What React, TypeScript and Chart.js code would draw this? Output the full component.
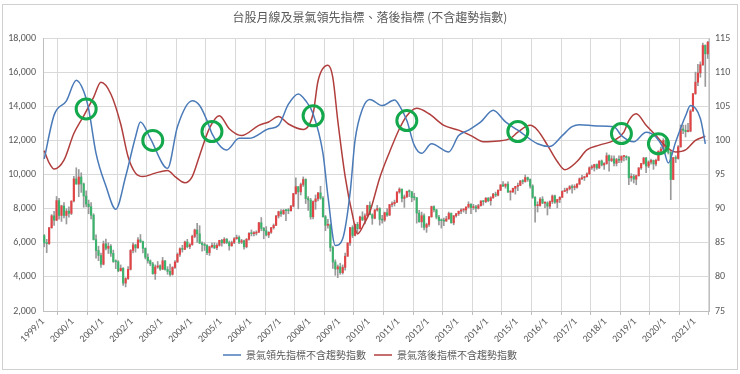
import React, { useEffect, useRef } from 'react';
import { Chart, registerables } from 'chart.js';
Chart.register(...registerables);

const START_YEAR = 1999;
const chartTitle = '台股月線及景氣領先指標、落後指標 (不含趨勢指數)';
const leadName = '景氣領先指標不含趨勢指數';
const lagName = '景氣落後指標不含趨勢指數';

const yearTickLabels = ['1999/1','2000/1','2001/1','2002/1','2003/1','2004/1','2005/1','2006/1','2007/1','2008/1','2009/1','2010/1','2011/1','2012/1','2013/1','2014/1','2015/1','2016/1','2017/1','2018/1','2019/1','2020/1','2021/1'];

// TAIEX monthly candles, 1999/1 .. 2021/6
const openPrices = [
  6418,5999,5950,6881,7581,7316,8467,7599,8157,7599,7854,7721,
  8448,9744,9435,9854,9444,8740,8265,8114,7616,6185,5544,5256,
  4739,5936,5674,5797,5381,4899,4883,4352,4500,3636,3903,4441,
  5551,5872,5696,6167,6065,5675,5153,4941,4764,4191,4579,4646,
  4452,4941,4432,4321,4148,4556,4872,5318,5650,5611,6045,5771,
  5890,6375,6750,6522,5977,5892,5840,5420,5765,5845,5706,5845,
  6139,5994,6207,6005,5819,6013,6241,6311,6033,6118,5764,6203,
  6548,6532,6561,6613,7171,6846,6704,6455,6611,6883,7021,7567,
  7823,7699,7901,7884,7875,8145,8883,9287,8982,9411,9711,8586,
  8506,7521,8412,8572,8920,8619,7524,7024,7046,5719,4870,4460,
  4591,4248,4557,5211,5992,6890,6432,7078,6826,7509,7340,7582,
  8188,7640,7436,7920,8004,7374,7329,7760,7616,8238,8287,8372,
  8973,9145,8600,8683,9008,8989,8653,8644,7741,7225,7587,6904,
  7072,7517,8121,7933,7501,7301,7296,7270,7397,7715,7166,7580,
  7700,7850,7919,7919,8094,8254,8062,8108,8022,8174,8450,8406,
  8612,8462,8639,8849,8792,9075,9393,9316,9436,8967,8975,9187,
  9307,9362,9622,9586,9820,9701,9323,8665,8175,8181,8554,8320,
  8338,8145,8411,8744,8377,8535,8666,9007,9069,9167,9290,9240,
  9254,9448,9750,9812,9872,10040,10395,10427,10586,10384,10794,10560,
  10643,11104,10816,10919,10658,10875,10837,11057,11064,10993,9802,9888,
  9727,9932,10389,10641,10967,10498,10730,10823,10618,10829,11358,11489,
  11997,11495,11292,9708,10992,10943,11621,12665,12592,12516,12546,13723,
  14733,15410,15953,16431,17567,17068
];
const highPrices = [
  6480,6200,6900,7650,7840,8710,8608,8200,8350,7990,8100,8450,
  9900,10393,10290,10100,9500,9050,8500,8350,7700,6460,5800,5400,
  6100,6210,6000,5900,5570,5000,4950,4700,4550,3950,4600,5600,
  5990,5920,6300,6484,6100,5700,5350,5000,4850,4700,4900,4700,
  5141,4950,4600,4750,4600,4950,5400,5700,5850,6100,6200,5950,
  6450,6800,7135,7000,6050,6000,5900,5800,6000,6000,5950,6150,
  6200,6300,6250,6100,6100,6300,6450,6400,6200,6150,6250,6600,
  6750,6650,6700,7200,7476,6900,6950,6650,6900,7100,7600,7850,
  7950,7950,7950,8000,8200,8900,9807,9300,9500,9859,9750,8700,
  8600,8450,8800,8950,9309,8700,7600,7376,7100,5800,5000,4700,
  4800,4700,5400,6000,6890,7000,7100,7200,7560,7810,7700,8200,
  8395,7700,7950,8190,8050,7600,7800,8000,8250,8400,8500,9000,
  9220,9150,8800,9030,9100,9000,8900,8650,7900,7800,7700,7150,
  7550,8150,8170,7950,7600,7400,7450,7550,7800,7750,7600,7720,
  7850,8000,8000,8100,8400,8300,8250,8200,8250,8450,8470,8650,
  8650,8700,8900,8970,9100,9400,9590,9450,9570,9050,9200,9300,
  9500,9650,9700,9973,9850,9750,9400,8700,8400,8650,8700,8400,
  8400,8450,8800,8800,8550,8700,9050,9200,9200,9350,9400,9400,
  9450,9800,9950,9900,10100,10450,10550,10600,10620,10800,10850,10700,
  11270,11150,11100,11100,10950,11100,11100,11100,11100,11050,10050,10000,
  9950,10400,10650,11000,11000,10800,10900,10850,10900,11400,11600,12100,
  12200,11850,11400,11000,11100,11700,12900,12900,12900,13000,13800,14750,
  16000,16450,16600,17700,17600,17800
];
const lowPrices = [
  5760,5422,5900,6850,7020,7300,7388,7250,7460,7100,7500,7650,
  8400,9440,8700,8950,8080,8100,7700,7400,6160,5100,4950,4555,
  4700,5580,5370,5200,4850,4480,4300,4350,3493,3411,3850,4400,
  5400,5450,5680,6000,5400,5050,4800,4650,4150,3850,4500,4380,
  4420,4400,4150,4044,4100,4500,4850,5200,5450,5600,5700,5650,
  5850,6300,6020,5950,5500,5550,5300,5255,5700,5650,5600,5800,
  5800,5950,5950,5565,5800,5950,6200,5950,5950,5618,5700,6150,
  6400,6400,6450,6600,6700,6232,6400,6300,6550,6800,7000,7450,
  7550,7650,7300,7700,7850,8100,8850,7987,8800,9300,8300,7900,
  7384,7400,7960,8450,8550,7500,6708,6850,5500,4500,4090,3955,
  4150,4164,4400,5200,5850,6300,6400,6550,6800,7300,7100,7500,
  7640,7080,7400,7850,7032,7150,7250,7550,7600,8100,8150,8350,
  8900,8400,8070,8650,8700,8400,8500,7150,7200,6900,6750,6609,
  6950,7500,7800,7400,7040,6860,7000,7250,7380,7150,7050,7500,
  7600,7700,7800,7700,8050,7700,7950,7800,7980,8150,8200,8350,
  8400,8200,8600,8700,8750,9050,9300,9200,8950,8500,8950,8850,
  9050,9350,9450,9550,9600,9200,8600,7203,7800,8150,8300,8050,
  7627,8000,8300,8300,8050,8350,8650,9000,8900,9100,8900,9100,
  9200,9400,9700,9650,9850,10000,10300,10200,10300,10350,10500,10300,
  10600,10189,10750,10500,10500,10700,10700,10800,10850,9400,9600,9500,
  9400,9900,10300,10600,10100,10400,10600,10300,10500,10800,11300,11400,
  11400,11200,8523,9700,10700,10900,11600,12400,12200,12500,12500,13700,
  14700,15200,15700,16400,15160,16800
];
const closePrices = [
  5999,5950,6881,7581,7316,8467,7599,8157,7599,7854,7721,8448,
  9744,9435,9854,9444,8740,8265,8114,7616,6185,5544,5256,4739,
  5936,5674,5797,5381,4899,4883,4352,4500,3636,3903,4441,5551,
  5872,5696,6167,6065,5675,5153,4941,4764,4191,4579,4646,4452,
  4941,4432,4321,4148,4556,4872,5318,5650,5611,6045,5771,5890,
  6375,6750,6522,5977,5892,5840,5420,5765,5845,5706,5845,6139,
  5994,6207,6005,5819,6013,6241,6311,6033,6118,5764,6203,6548,
  6532,6561,6613,7171,6846,6704,6455,6611,6883,7021,7567,7823,
  7699,7901,7884,7875,8145,8883,9287,8982,9411,9711,8586,8506,
  7521,8412,8572,8920,8619,7524,7024,7046,5719,4870,4460,4591,
  4248,4557,5211,5992,6890,6432,7078,6826,7509,7340,7582,8188,
  7640,7436,7920,8004,7374,7329,7760,7616,8238,8287,8372,8973,
  9145,8600,8683,9008,8989,8653,8644,7741,7225,7587,6904,7072,
  7517,8121,7933,7501,7301,7296,7270,7397,7715,7166,7580,7700,
  7850,7919,7919,8094,8254,8062,8108,8022,8174,8450,8406,8612,
  8462,8639,8849,8792,9075,9393,9316,9436,8967,8975,9187,9307,
  9362,9622,9586,9820,9701,9323,8665,8175,8181,8554,8320,8338,
  8145,8411,8744,8377,8535,8666,9007,9069,9167,9290,9240,9254,
  9448,9750,9812,9872,10040,10395,10427,10586,10384,10794,10560,10643,
  11104,10816,10919,10658,10875,10837,11057,11064,10993,9802,9888,9727,
  9932,10389,10641,10967,10498,10730,10823,10618,10829,11358,11489,11997,
  11495,11292,9708,10992,10943,11621,12665,12592,12516,12546,13723,14733,
  15410,15953,16431,17567,17068,17755
];

// Leading index (excl. trend), key months
const leadDates = ['1999/1','1999/5','1999/10','2000/2','2000/5','2000/7','2000/10','2001/2','2001/6','2001/10','2002/2','2002/4','2002/8','2003/3','2003/7','2004/1','2004/4','2004/7','2004/9','2005/3','2005/8','2005/12','2006/8','2006/12','2007/4','2007/8','2007/11','2008/2','2008/6','2008/8','2008/11','2009/2','2009/5','2009/7','2009/10','2010/1','2010/6','2010/11','2011/1','2011/4','2011/7','2011/10','2012/2','2012/9','2013/1','2013/5','2013/10','2014/3','2014/8','2015/1','2015/9','2016/2','2016/7','2016/11','2017/2','2017/9','2018/4','2018/7','2018/12','2019/5','2019/9','2019/12','2020/2','2020/5','2020/9','2020/11','2021/3','2021/5'];
const leadValues = [97.3,103.7,105.8,108.8,107.2,104.6,98.1,93.3,89.9,94.7,100.5,102.7,100.3,95.9,102.0,105.8,105.1,102.9,101.0,98.6,100.3,100.3,101.7,102.2,105.3,106.8,105.8,103.9,98.1,91.9,84.6,85.6,92.3,100.0,104.6,106.0,105.1,105.9,105.1,102.9,99.3,98.1,99.5,98.3,100.7,101.5,102.7,104.4,102.7,101.5,99.5,99.1,100.7,102.0,102.3,102.1,102.0,100.7,99.8,101.2,100.5,98.8,96.7,99.8,103.6,105.1,103.2,99.5];

// Lagging index (excl. trend), key months
const lagDates = ['1999/1','1999/3','1999/5','1999/9','2000/1','2000/5','2000/9','2000/12','2001/4','2001/8','2001/11','2002/2','2002/5','2002/10','2003/3','2003/6','2003/10','2004/1','2004/4','2004/8','2004/12','2005/4','2005/9','2006/4','2006/8','2006/12','2007/4','2007/10','2008/2','2008/4','2008/8','2008/10','2008/12','2009/3','2009/6','2009/8','2009/11','2010/1','2010/5','2010/9','2011/1','2011/4','2011/8','2012/1','2012/7','2013/1','2013/6','2013/11','2014/5','2014/10','2015/1','2015/6','2015/9','2016/1','2016/5','2016/8','2017/1','2017/5','2017/10','2018/4','2018/8','2018/10','2019/1','2019/5','2019/9','2020/1','2020/5','2020/9','2021/1','2021/5'];
const lagValues = [98.5,96.7,95.8,97.1,101.0,103.6,106.3,108.5,106.8,102.4,97.6,95.2,94.7,95.2,95.6,94.7,93.8,94.7,97.8,101.8,103.6,101.7,100.7,102.2,102.7,103.5,102.4,101.6,103.9,108.7,111.0,109.2,102.9,94.7,89.0,86.3,88.0,89.5,94.5,98.3,101.7,103.6,104.7,103.9,102.2,101.5,100.7,99.8,99.9,100.3,101.2,102.2,101.5,99.3,96.9,95.7,96.9,98.6,99.3,100.0,101.2,102.9,103.9,102.2,100.7,99.1,98.3,98.6,100.0,100.6];

// Green rings marking the crossings
const ringDates = ['2000/6','2002/9','2004/9','2008/2','2011/4','2015/1','2018/7','2019/10'];
const ringValues = [104.6,100.0,101.3,103.6,102.9,101.3,101.0,99.5];

const UP = '#e24446';
const DOWN = '#3cb36c';
const WICK = '#9a9a9a';
const BLUE = '#4a7ab8';
const RED = '#b03e3d';
const GREEN = '#13a84c';
const GRID = '#d9d9d9';
const TEXT = '#595959';
const NUM_FONT = "Carlito, 'Liberation Sans', 'Noto Sans CJK TC', sans-serif";
const CJK_FONT = "'Noto Sans CJK TC', 'Noto Sans', sans-serif";

function monthPos(label: string): number {
  const [y, m] = label.split('/').map(Number);
  return (y - START_YEAR) * 12 + (m - 1) + 0.5;
}

const framePlugin = {
  id: 'frame',
  beforeDraw(chart: any) {
    const { ctx, width, height } = chart;
    ctx.save();
    ctx.fillStyle = '#ffffff';
    ctx.fillRect(0, 0, width, height);
    ctx.strokeStyle = '#d0d0d0';
    ctx.lineWidth = 1;
    ctx.strokeRect(2.5, 4.5, width - 5, height - 9);
    ctx.restore();
  },
};

export default function App() {
  const ref = useRef<HTMLCanvasElement | null>(null);
  useEffect(() => {
    document.body.style.margin = '0';
    const canvas = ref.current;
    if (!canvas) return;
    const wickData = highPrices.map((h, i) => ({ x: i + 0.5, y: [lowPrices[i], h] }));
    const bodyData = closePrices.map((c, i) => ({ x: i + 0.5, y: [openPrices[i], c] }));
    const bodyColors = closePrices.map((c, i) => (c >= openPrices[i] ? UP : DOWN));
    const leadData = leadDates.map((d, i) => ({ x: monthPos(d), y: leadValues[i] }));
    const lagData = lagDates.map((d, i) => ({ x: monthPos(d), y: lagValues[i] }));
    const ringData = ringDates.map((d, i) => ({ x: monthPos(d), y: ringValues[i] }));

    const chart = new Chart(canvas, {
      type: 'bar',
      data: {
        datasets: [
          {
            type: 'line', label: 'rings', data: ringData, yAxisID: 'y1', showLine: false,
            pointRadius: 10, pointHoverRadius: 10, pointBorderWidth: 3, pointBorderColor: GREEN,
            pointBackgroundColor: 'rgba(0,0,0,0)', borderColor: GREEN, order: 0,
          } as any,
          {
            type: 'line', label: leadName, data: leadData, yAxisID: 'y1', borderColor: BLUE,
            backgroundColor: BLUE, borderWidth: 1.5, pointRadius: 0, cubicInterpolationMode: 'monotone', order: 1,
          } as any,
          {
            type: 'line', label: lagName, data: lagData, yAxisID: 'y1', borderColor: RED,
            backgroundColor: RED, borderWidth: 1.5, pointRadius: 0, cubicInterpolationMode: 'monotone', order: 1,
          } as any,
          {
            type: 'bar', label: 'body', data: bodyData, yAxisID: 'y', backgroundColor: bodyColors,
            barThickness: 1.5, grouped: false, minBarLength: 1, order: 2,
          } as any,
          {
            type: 'bar', label: 'wick', data: wickData, yAxisID: 'y', backgroundColor: WICK,
            barThickness: 1, grouped: false, order: 3,
          } as any,
        ],
      },
      options: {
        responsive: false,
        animation: false,
        events: [],
        layout: { padding: { left: 0, right: 0, top: 0, bottom: 4 } },
        plugins: {
          tooltip: { enabled: false },
          title: {
            display: true, text: chartTitle, color: TEXT,
            font: { family: CJK_FONT, size: 12, weight: 'normal' },
            padding: { top: 10, bottom: 13.6 },
          },
          legend: {
            position: 'bottom',
            labels: {
              filter: (item: any) => item.datasetIndex === 1 || item.datasetIndex === 2,
              usePointStyle: true, pointStyle: 'line', pointStyleWidth: 18, boxHeight: 10,
              color: TEXT, font: { family: CJK_FONT, size: 10 }, padding: 8,
            },
          },
        },
        scales: {
          x: {
            type: 'linear', min: 0, max: 270, offset: false,
            afterBuildTicks: (s: any) => { s.ticks = yearTickLabels.map((_, k) => ({ value: k * 12 })); },
            afterFit: (s: any) => { s.height = 31; },
            ticks: {
              autoSkip: false, minRotation: 45, maxRotation: 45, color: TEXT, padding: 1,
              font: { family: NUM_FONT, size: 10 },
              callback: (_v: any, idx: number) => yearTickLabels[idx],
            },
            grid: { color: GRID, tickLength: 4, tickColor: '#bfbfbf' },
            border: { color: '#bfbfbf' },
          },
          y: {
            type: 'linear', position: 'left', min: 2000, max: 18000,
            afterFit: (s: any) => { s.width = 43; },
            ticks: {
              stepSize: 2000, color: TEXT, padding: 7, font: { family: NUM_FONT, size: 10 },
              callback: (v: any) => Number(v).toLocaleString('en-US'),
            },
            grid: { color: GRID, drawTicks: false },
            border: { color: '#bfbfbf' },
          },
          y1: {
            type: 'linear', position: 'right', min: 75, max: 115,
            afterFit: (s: any) => { s.width = 31; },
            ticks: { stepSize: 5, color: TEXT, padding: 6, font: { family: NUM_FONT, size: 10 } },
            grid: { drawOnChartArea: false, drawTicks: false },
            border: { color: '#bfbfbf' },
          },
        },
      } as any,
      plugins: [framePlugin],
    });
    return () => chart.destroy();
  }, []);
  return <canvas ref={ref} width={740} height={374} style={{ display: 'block', width: 740, height: 374 }} />;
}
